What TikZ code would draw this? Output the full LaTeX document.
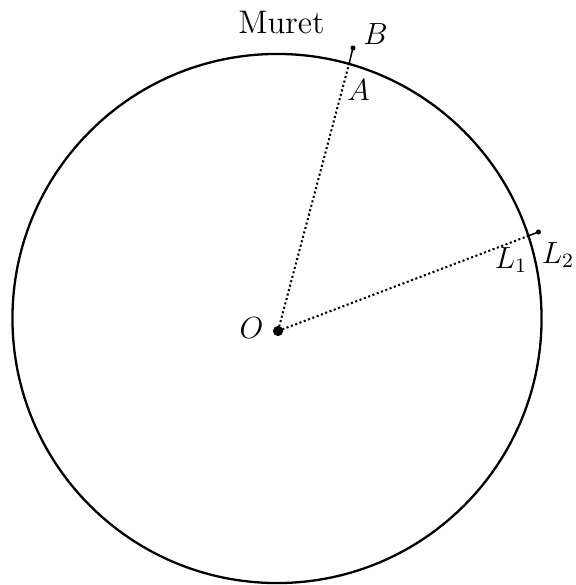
\documentclass[tikz,border=0pt]{standalone}
\usetikzlibrary{positioning}
\begin{document}
\begin{tikzpicture}[
  x=0.01378cm, y=-0.01378cm,
  rim/.style={line width=0.9pt},
  ray/.style={line width=0.8pt, densely dotted},
  stub/.style={line width=0.6pt},
  lbl/.style={inner sep=0pt, anchor=base, font=\large}
]
\useasboundingbox (0,0) rectangle (576,585);
\coordinate (C) at (277,318.5);
\coordinate (O) at (278,331);
\coordinate (A) at (349,64);
\coordinate (B) at (353,48);
\coordinate (L1) at (528,236);
\coordinate (L2) at (538.5,232);
% earth and the two radii
\draw[rim] (C) circle[radius=3.645cm];
\draw[ray] (O) -- (A);
\draw[ray] (O) -- (L1);
\draw[stub] (A) -- (B);
\draw[stub] (L1) -- (L2);
\fill (O) circle[radius=2pt];
\fill (B) circle[radius=1pt];
\fill (L2) circle[radius=1pt];
\fill (A) circle[radius=0.6pt];
\fill (L1) circle[radius=0.6pt];
% labels
\node[lbl, font=\fontsize{12.8}{15}\selectfont] (muret) at (281.5,34) {Muret};
\node[lbl] (labB) at (375.5,44) {$B$};
\node[lbl] (labA) at (358.5,100) {$A$};
\node[lbl] (labO) at (251.5,338) {$O$};
\node[lbl] (labL1) at (511,268) {$L_1$};
\node[lbl] (labL2) at (558,263) {$L_2$};
\end{tikzpicture}
\end{document}
